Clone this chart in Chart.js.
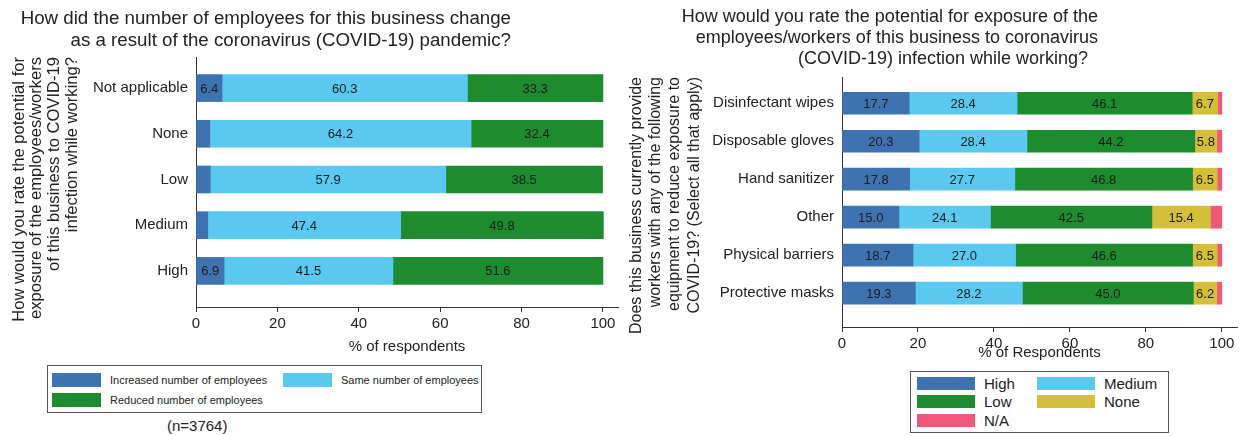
<!DOCTYPE html>
<html>
<head>
<meta charset="utf-8">
<script src="https://cdn.jsdelivr.net/npm/chart.js@4/dist/chart.umd.min.js"></script>
<style>
  body { margin: 0; background: #fff; font-family: "Liberation Sans", Arial, sans-serif; color: #222; }
  #page { position: relative; width: 1243px; height: 436px; overflow: hidden; }
  canvas { position: absolute; }
  .title { position: absolute; text-align: right; color: #222; white-space: nowrap; }
  .legend { position: absolute; border: 1px solid #555; box-sizing: border-box; }
  .item { position: absolute; white-space: nowrap; }
  .item span.sw { position: absolute; left: 0; }
  .note { position: absolute; font-size: 15px; }
</style>
</head>
<body>
<div id="page">
  <canvas id="leftChart" width="620" height="360" style="left:0; top:0;"></canvas>
  <canvas id="rightChart" width="623" height="370" style="left:620px; top:0;"></canvas>
  <div class="title" style="left:0; top:7px; width:511px; font-size:18.7px; line-height:22px;">
    <div>How did the number of employees for this business change</div>
    <div>as a result of the coronavirus (COVID-19) pandemic?</div>
  </div>
  <div class="title" style="left:600px; top:6px; width:498px; font-size:18px; line-height:21px;">
    <div>How would you rate the potential for exposure of the</div>
    <div>employees/workers of this business to coronavirus</div>
    <div style="padding-right:10px;">(COVID-19) infection while working?</div>
  </div>
  <div id="leftLegend" class="legend" style="left:47px; top:365px; width:435px; height:48px;"></div>
  <div class="note" style="left:167px; top:417px;">(n=3764)</div>
  <div id="rightLegend" class="legend" style="left:910px; top:371px; width:259px; height:62px;"></div>
</div>

<script>
// ---- data: left chart ----
const leftCategories = ['Not applicable', 'None', 'Low', 'Medium', 'High'];
const increased = [6.4, 3.4, 3.5, 2.9, 6.9];
const same = [60.3, 64.2, 57.9, 47.4, 41.5];
const reduced = [33.3, 32.4, 38.5, 49.8, 51.6];

// ---- data: right chart ----
const rightCategories = ['Disinfectant wipes', 'Disposable gloves', 'Hand sanitizer', 'Other', 'Physical barriers', 'Protective masks'];
const high = [17.7, 20.3, 17.8, 15.0, 18.7, 19.3];
const medium = [28.4, 28.4, 27.7, 24.1, 27.0, 28.2];
const low = [46.1, 44.2, 46.8, 42.5, 46.6, 45.0];
const none = [6.7, 5.8, 6.5, 15.4, 6.5, 6.2];
const na = [1.1, 1.3, 1.2, 3.0, 1.2, 1.3];

const xTicks = [0, 20, 40, 60, 80, 100];

const FONT = '"Liberation Sans", Arial, sans-serif';
const C_DARK = '#3f72b0', C_LIGHT = '#5bc8ef', C_GREEN = '#1e8c2e', C_YELLOW = '#d4bf3a', C_RED = '#f0587a';

// category i sits at y = n-1-i so the first category is on top
function toPoints(values) {
  const n = values.length;
  return values.map((v, i) => ({ x: v, y: n - 1 - i }));
}

// writes the value in the middle of each segment that is wide enough
const barLabels = {
  id: 'barLabels',
  afterDatasetsDraw(chart) {
    const ctx = chart.ctx;
    ctx.save();
    ctx.font = '13px ' + FONT;
    ctx.fillStyle = '#1c1c1c';
    ctx.textAlign = 'center';
    ctx.textBaseline = 'middle';
    chart.data.datasets.forEach((ds, i) => {
      chart.getDatasetMeta(i).data.forEach((bar, j) => {
        const v = ds.data[j].x;
        if (v < 5) return;
        const p = bar.getProps(['x', 'y', 'base'], true);
        ctx.fillText(v.toFixed(1), (p.x + p.base) / 2, p.y + 1);
      });
    });
    ctx.restore();
  }
};

function makeChart(id, cfg) {
  const n = cfg.categories.length;
  return new Chart(document.getElementById(id), {
    type: 'bar',
    data: {
      datasets: cfg.series.map(s => ({
        label: s.label,
        data: toPoints(s.data),
        backgroundColor: s.color,
        borderWidth: 0,
        barThickness: cfg.barThickness
      }))
    },
    options: {
      indexAxis: 'y',
      responsive: false,
      animation: false,
      layout: { padding: { top: cfg.top, right: cfg.right, left: 0, bottom: 0 } },
      scales: {
        x: {
          type: 'linear',
          stacked: true,
          min: 0,
          max: cfg.xMax,
          afterBuildTicks: s => { s.ticks = xTicks.map(v => ({ value: v })); },
          afterFit: s => { s.height = cfg.xHeight; },
          grid: { drawOnChartArea: false, drawTicks: true, tickLength: 5, color: '#333' },
          border: { display: true, color: '#333' },
          ticks: { font: { family: FONT, size: 15 }, color: '#222', padding: 3, maxRotation: 0 },
          title: {
            display: true, text: cfg.xTitle, color: '#222',
            font: { family: FONT, size: 15 }, padding: { top: 0, bottom: cfg.xTitlePad }
          }
        },
        y: {
          type: 'linear',
          stacked: true,
          offset: false,
          min: cfg.yMin,
          max: cfg.yMax,
          afterBuildTicks: s => { s.ticks = cfg.categories.map((_, i) => ({ value: i })); },
          afterFit: s => { s.width = cfg.yWidth; },
          grid: { offset: false, drawOnChartArea: false, drawTicks: false },
          border: { display: true, color: '#333' },
          ticks: {
            font: { family: FONT, size: 15 }, color: '#222', padding: 8,
            callback: v => cfg.categories[n - 1 - v]
          },
          title: {
            display: true, text: cfg.yTitle, align: 'end', color: '#222',
            font: { family: FONT, size: cfg.yTitleSize, lineHeight: cfg.yTitleLH }, padding: { top: cfg.yTitlePad, bottom: 0 }
          }
        }
      },
      plugins: { legend: { display: false }, tooltip: { enabled: false } }
    },
    plugins: [barLabels]
  });
}

const leftChart = makeChart('leftChart', {
  categories: leftCategories,
  series: [
    { label: 'Increased number of employees', data: increased, color: C_DARK },
    { label: 'Same number of employees', data: same, color: C_LIGHT },
    { label: 'Reduced number of employees', data: reduced, color: C_GREEN }
  ],
  barThickness: 27,
  top: 57, right: 2,
  xMax: 103.7, xHeight: 53, xTitle: '% of respondents', xTitlePad: 4,
  yMin: -0.79, yMax: 4.68, yWidth: 196,
  yTitle: ['How would you rate the potential for', 'exposure of the employees/workers', 'of this business to COVID-19', 'infection while working?'],
  yTitleSize: 16.6, yTitleLH: 1.08, yTitlePad: 10
});

const rightChart = makeChart('rightChart', {
  categories: rightCategories,
  series: [
    { label: 'High', data: high, color: C_DARK },
    { label: 'Medium', data: medium, color: C_LIGHT },
    { label: 'Low', data: low, color: C_GREEN },
    { label: 'None', data: none, color: C_YELLOW },
    { label: 'N/A', data: na, color: C_RED }
  ],
  barThickness: 22,
  top: 77, right: 6,
  xMax: 104, xHeight: 43, xTitle: '% of Respondents', xTitlePad: 8,
  yMin: -0.89, yMax: 5.69, yWidth: 222,
  yTitle: ['Does this business currently provide', 'workers with any of the following', 'equipment to reduce exposure to', 'COVID-19? (Select all that apply)'],
  yTitleSize: 16, yTitleLH: 1.2, yTitlePad: 7
});

// HTML legends built from the chart datasets
function buildLegend(boxId, chart, layout) {
  const box = document.getElementById(boxId);
  chart.data.datasets.forEach((ds, i) => {
    const pos = layout.pos[i];
    const item = document.createElement('div');
    item.className = 'item';
    item.style.left = pos[0] + 'px';
    item.style.top = pos[1] + 'px';
    item.style.height = layout.swH + 'px';
    item.style.fontSize = layout.font + 'px';
    item.style.lineHeight = layout.swH + 'px';
    item.style.paddingLeft = layout.textX + 'px';
    item.innerHTML = '<span class="sw" style="width:' + layout.swW + 'px;height:' + layout.swH +
      'px;background:' + ds.backgroundColor + '"></span>' + ds.label;
    box.appendChild(item);
  });
}

buildLegend('leftLegend', leftChart, {
  swW: 49, swH: 14, textX: 58, font: 11,
  pos: [[4, 7], [235, 7], [4, 27]]
});
buildLegend('rightLegend', rightChart, {
  swW: 58, swH: 13, textX: 67, font: 15,
  pos: [[6, 5], [126, 5], [6, 23], [126, 23], [6, 42]]
});
</script>
</body>
</html>
